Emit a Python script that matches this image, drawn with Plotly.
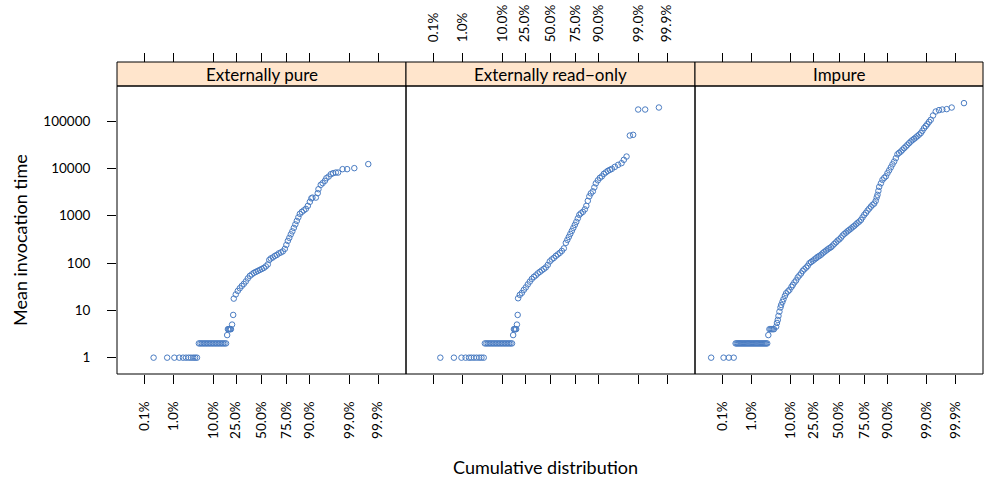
import plotly.graph_objects as go
from statistics import NormalDist

# ---------------- data (normal quantile of cumulative distribution, mean invocation time) ----------------
panel_titles = ["Externally pure", "Externally read\u2212only", "Impure"]

pure_q = [-2.86, -2.50, -2.31, -2.18, -2.08, -2.00, -1.93, -1.87, -1.81, -1.76, -1.71,
          -1.66, -1.62, -1.58, -1.54, -1.50, -1.46, -1.42, -1.38, -1.34, -1.30, -1.26, -1.22, -1.18,
          -1.14, -1.10, -1.06, -1.02, -0.98, -0.94,
          -0.91, -0.89, -0.87, -0.85, -0.83, -0.81, -0.78, -0.75,
          -0.735, -0.682, -0.629, -0.576, -0.523, -0.470, -0.416, -0.363, -0.310, -0.257, -0.204,
          -0.151, -0.098, -0.045, 0.008, 0.061, 0.114, 0.167, 0.207, 0.247, 0.300, 0.353, 0.406,
          0.459, 0.512, 0.565, 0.618, 0.658, 0.698, 0.737, 0.777, 0.817, 0.857, 0.897, 0.936,
          0.976, 1.016, 1.069, 1.122, 1.175, 1.228, 1.281, 1.321,
          1.35, 1.44, 1.49, 1.51, 1.57, 1.62, 1.68, 1.72, 1.78, 1.84, 1.90, 1.97, 2.03, 2.15,
          2.27, 2.46, 2.83]
pure_t = [1, 1, 1, 1, 1, 1, 1, 1, 1, 1, 1,
          2, 2, 2, 2, 2, 2, 2, 2, 2, 2, 2, 2, 2,
          2, 2, 2, 2, 2, 2,
          3, 4, 4, 4, 4, 4, 5, 8,
          17.7, 21.7, 25.7, 29.3, 32.8, 36.2, 40.8, 47.2, 53.4, 57.4, 61.8,
          64.9, 68.1, 71.5, 75.0, 78.8, 84.8, 93.4, 116, 125, 131, 141, 148,
          160, 167, 176, 199, 241, 293, 340, 403, 466, 552, 655, 776,
          921, 1091, 1203, 1294, 1393, 1611, 1958, 2322,
          2410, 2410, 2990, 3630, 4480, 4870, 5450, 6210, 6710, 7540, 7920, 8150, 8150, 9620,
          9620, 10100, 12300]

readonly_q = [-2.92, -2.56, -2.36, -2.25, -2.16, -2.10, -2.03, -1.96, -1.89, -1.83, -1.77,
              -1.74, -1.70, -1.66, -1.62, -1.58, -1.54, -1.50, -1.46, -1.42, -1.38, -1.34, -1.30,
              -1.26, -1.22, -1.18, -1.14, -1.10, -1.06, -1.02,
              -0.99, -0.97, -0.95, -0.93, -0.91, -0.89, -0.87,
              -0.859, -0.814, -0.761, -0.708, -0.655, -0.602, -0.549, -0.496, -0.443, -0.390,
              -0.337, -0.284, -0.231, -0.178, -0.125, -0.072, -0.019, 0.034, 0.088, 0.141, 0.194,
              0.247, 0.300, 0.353, 0.406, 0.446, 0.485, 0.525, 0.565, 0.605, 0.645, 0.684, 0.724,
              0.764, 0.804, 0.857, 0.910, 0.950, 0.989, 1.029, 1.069, 1.122, 1.162, 1.202, 1.255,
              1.308, 1.361, 1.414, 1.467, 1.520, 1.573, 1.626, 1.706, 1.793, 1.883, 1.944, 2.016,
              2.103, 2.191, 2.324, 2.509, 2.873]
readonly_t = [1, 1, 1, 1, 1, 1, 1, 1, 1, 1, 1,
              2, 2, 2, 2, 2, 2, 2, 2, 2, 2, 2, 2,
              2, 2, 2, 2, 2, 2, 2,
              3, 4, 4, 4, 4, 5, 8,
              18.0, 21.2, 23.3, 27.0, 30.5, 35.3, 40.4, 46.1, 50.8, 54.7,
              60.3, 64.9, 69.8, 75.0, 80.7, 91.2, 108, 119, 128, 141, 152,
              164, 180, 204, 266, 308, 356, 412, 477, 552, 639, 739, 877,
              1040, 1119, 1203, 1359, 1611, 2056, 2559, 2958, 3266, 3963, 4819, 5573,
              6297, 6776, 7653, 8230, 8855, 9296, 9755, 10760, 11860, 12880, 15130, 17770,
              49350, 51050, 175000, 175000, 193000]

impure_q = [-3.40, -3.07, -2.93, -2.80,
            -2.75, -2.72, -2.69, -2.66, -2.63, -2.60, -2.57, -2.54, -2.51, -2.48, -2.45, -2.42,
            -2.39, -2.36, -2.33, -2.30, -2.27, -2.24, -2.21, -2.18, -2.15, -2.12, -2.09, -2.06,
            -2.03, -2.00, -1.97, -1.94, -1.91,
            -1.88, -1.85, -1.82, -1.79, -1.76, -1.73,
            -1.671, -1.650, -1.629, -1.610, -1.584, -1.557, -1.538, -1.504, -1.477, -1.438, -1.406,
            -1.358, -1.318, -1.265, -1.231, -1.186, -1.141, -1.098, -1.053, -1.008, -0.966, -0.923,
            -0.875, -0.833, -0.788, -0.743, -0.700, -0.655, -0.610, -0.568, -0.523, -0.477, -0.435,
            -0.390, -0.345, -0.302, -0.257, -0.212, -0.170, -0.125, -0.080, -0.037, 0.008, 0.053,
            0.095, 0.141, 0.186, 0.228, 0.273, 0.318, 0.361, 0.406, 0.451, 0.493, 0.538, 0.584,
            0.626, 0.671, 0.716, 0.759, 0.804, 0.849, 0.891, 0.936, 0.976, 1.003, 1.024, 1.048,
            1.069, 1.114, 1.156, 1.202, 1.247, 1.289, 1.334, 1.379, 1.422, 1.467, 1.512, 1.554,
            1.599, 1.645, 1.687, 1.732, 1.777, 1.820, 1.865, 1.910, 1.952, 1.997, 2.042, 2.085,
            2.130, 2.175, 2.218, 2.263, 2.308, 2.350, 2.395, 2.440, 2.501, 2.573, 2.660, 2.748,
            2.865, 2.997, 3.324]
impure_t = [1, 1, 1, 1,
            2, 2, 2, 2, 2, 2, 2, 2, 2, 2, 2, 2,
            2, 2, 2, 2, 2, 2, 2, 2, 2, 2, 2, 2,
            2, 2, 2, 2, 2,
            3, 4, 4, 4, 4, 4,
            4.52, 5.42, 6.27, 7.62, 9.39, 11.5, 13.0, 15.1, 17.2, 20.2, 23.0,
            25.1, 27.0, 31.2, 34.4, 38.9, 42.9, 49.6, 54.7, 60.3, 68.1, 73.9,
            80.0, 86.9, 99.0, 105, 111, 119, 126, 135, 141, 150, 161,
            172, 183, 194, 206, 216, 233, 254, 273, 298, 316, 344,
            380, 412, 439, 470, 501, 534, 571, 608, 655, 704, 750, 815,
            921, 1040, 1146, 1282, 1413, 1557, 1692, 1803, 2056, 2437, 2754, 3343,
            4064, 4819, 5704, 6297, 6776, 7918, 9078, 10500, 12160, 13930, 16430, 19780,
            21270, 22650, 24600, 26730, 28890, 31400, 34120, 36880, 39460, 42070, 44800, 47980,
            51630, 55580, 62130, 70790, 78110, 86080, 96330, 106200, 130800, 158800, 169900, 175000,
            178300, 192800, 238800]

tick_pct = [0.1, 1.0, 10.0, 25.0, 50.0, 75.0, 90.0, 99.0, 99.9]
tick_text = ["0.1%", "1.0%", "10.0%", "25.0%", "50.0%", "75.0%", "90.0%", "99.0%", "99.9%"]
y_ticks = [1, 10, 100, 1000, 10000, 100000]
y_text = ["1", "10", "100", "1000", "10000", "100000"]

# ---------------- layout geometry ----------------
W, H = 984, 480


def fx(px):
    return px / W


def fy(py):
    return 1 - py / H


FONT = "Lato"
COL = "#4a7cc2"
x_left = [fx(117), fx(406), fx(695)]
x_right = [fx(406), fx(695), fx(983)]
y_bot = fy(374)
y_top = fy(86)
strip_top = fy(62)
xr = [-3.83, 3.83]
yr = [-0.345, 5.74]
tick_z = [NormalDist().inv_cdf(p / 100.0) for p in tick_pct]

fig = go.Figure()
series = [(pure_q, pure_t), (readonly_q, readonly_t), (impure_q, impure_t)]
for i, (q, t) in enumerate(series):
    xa = "x" if i == 0 else f"x{i+1}"
    ya = "y" if i == 0 else f"y{i+1}"
    fig.add_trace(go.Scatter(x=q, y=t, mode="markers", xaxis=xa, yaxis=ya,
                             marker=dict(symbol="circle-open", size=5.5, color=COL,
                                         line=dict(width=1, color=COL)),
                             showlegend=False, hoverinfo="skip"))
# empty traces to carry the top (free) axes, each overlaying its panel
for i in range(3):
    fig.add_trace(go.Scatter(x=[], y=[], xaxis=f"x{i+4}", yaxis="y" if i == 0 else f"y{i+1}",
                             showlegend=False, hoverinfo="skip"))

tickfont = dict(family=FONT, size=13.5, color="black")
layout = dict(width=W, height=H, margin=dict(l=0, r=0, t=0, b=0),
              paper_bgcolor="white", plot_bgcolor="rgba(0,0,0,0)", showlegend=False)

for i in range(3):
    key = "xaxis" if i == 0 else f"xaxis{i+1}"
    layout[key] = dict(domain=[x_left[i], x_right[i]], range=xr, anchor="y" if i == 0 else f"y{i+1}",
                       tickvals=tick_z, ticktext=tick_text, tickangle=-90,
                       showticklabels=(i != 1), ticks="outside", ticklen=9, tickcolor="black",
                       tickwidth=1, showgrid=False, zeroline=False, showline=False,
                       tickfont=tickfont, ticklabelstandoff=12)
    ykey = "yaxis" if i == 0 else f"yaxis{i+1}"
    ya = dict(domain=[y_bot, y_top], type="log", range=yr, anchor="x" if i == 0 else f"x{i+1}",
              showgrid=False, zeroline=False, showline=False)
    if i == 0:
        ya.update(tickvals=y_ticks, ticktext=y_text, ticks="outside", ticklen=9, tickcolor="black",
                  tickfont=tickfont, ticklabelstandoff=14)
    else:
        ya.update(matches="y", showticklabels=False, ticks="")
    layout[ykey] = ya
    # top axes above the strips
    layout[f"xaxis{i+4}"] = dict(domain=[x_left[i], x_right[i]], range=xr, anchor="free",
                                 position=strip_top, side="top",
                                 overlaying="x" if i == 0 else f"x{i+1}",
                                 tickvals=tick_z, ticktext=tick_text, tickangle=-90,
                                 showticklabels=(i == 1), ticks="outside", ticklen=9,
                                 tickcolor="black", tickwidth=1, showgrid=False, zeroline=False,
                                 showline=False, tickfont=tickfont, ticklabelstandoff=8)

shapes = []
annotations = []
for i in range(3):
    shapes.append(dict(type="rect", xref="paper", yref="paper", x0=x_left[i], x1=x_right[i],
                       y0=y_top, y1=strip_top, fillcolor="#ffe5cc",
                       line=dict(color="black", width=1), layer="below"))
    shapes.append(dict(type="rect", xref="paper", yref="paper", x0=x_left[i], x1=x_right[i],
                       y0=y_bot, y1=y_top, line=dict(color="black", width=1), layer="above"))
    annotations.append(dict(text=panel_titles[i], xref="paper", yref="paper",
                            x=(x_left[i] + x_right[i]) / 2, y=(y_top + strip_top) / 2,
                            showarrow=False, xanchor="center", yanchor="middle",
                            font=dict(family=FONT, size=17, color="black")))

annotations.append(dict(text="Cumulative distribution", xref="paper", yref="paper",
                        x=fx(545), y=fy(467), showarrow=False, xanchor="center",
                        yanchor="middle", font=dict(family=FONT, size=18, color="black")))
annotations.append(dict(text="Mean invocation time", xref="paper", yref="paper",
                        x=fx(20), y=fy(240), showarrow=False, textangle=-90,
                        xanchor="center", yanchor="middle",
                        font=dict(family=FONT, size=18, color="black")))

layout["shapes"] = shapes
layout["annotations"] = annotations
fig.update_layout(**layout)
# remove the default page margin so the figure sits at the window corner; no mode bar
fig.write_html("out.html", config={"displayModeBar": False},
               post_script="document.body.style.margin='0';document.body.style.overflow='hidden';")
